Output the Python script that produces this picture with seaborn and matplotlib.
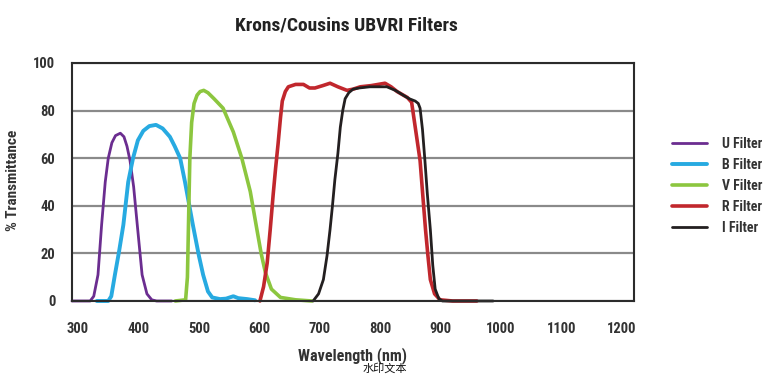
import numpy as np
import pandas as pd
import matplotlib
matplotlib.use('Agg')
import matplotlib.pyplot as plt
import seaborn as sns

# filter transmission curves (wavelength nm, % transmittance)
U_nm = [290, 320, 326, 333, 339, 345, 350, 356, 362, 370, 376, 381, 386, 392, 398, 406, 414, 422, 430, 455]
U_pct = [0, 0, 2, 11, 32, 50, 60, 66.5, 69.5, 70.5, 69, 65, 59, 48, 32, 11, 3, 0.5, 0, 0]

B_nm = [331, 350, 355, 361, 368, 375, 383, 391, 399, 408, 418, 429, 440, 452, 460, 469, 477,
        490, 500, 507, 515, 522, 535, 545, 557, 565, 580, 593]
B_pct = [0, 0, 2, 11, 21, 32, 50, 60, 67.5, 71.5, 73.5, 74, 72.5, 69, 65, 60, 50,
         32, 19, 11, 4, 1.5, 0.8, 1, 2, 1.2, 0.8, 0.3]

V_nm = [461, 478, 481, 483, 485, 488, 492, 497, 502, 508, 515, 525, 540, 557, 571, 585,
        596, 603, 610, 620, 635, 660, 687]
V_pct = [0, 0.5, 10, 35, 60, 75, 83, 86.5, 88, 88.5, 87.5, 85, 81, 71, 60, 46,
         30, 20, 12, 5, 1.5, 0.5, 0]

R_nm = [601, 607, 613, 618, 623, 627, 631, 635, 638, 643, 648, 660, 673, 683, 692, 705, 717,
        730, 745, 755, 767, 785, 808, 818, 828, 845, 852, 858, 866, 870, 875, 879, 883, 890,
        899, 920, 960]
R_pct = [0, 6, 16, 30, 45, 56, 66, 77, 84, 88, 90, 91, 91, 89.5, 89.5, 90.5, 91.5,
         90, 88.5, 89, 90, 90.5, 91.5, 90, 88, 85.5, 83.5, 73, 59, 46, 30, 19, 9, 3,
         0.5, 0, 0]

I_nm = [689, 698, 706, 712, 717, 721, 725, 730, 734, 738, 742, 748, 755, 765, 783, 800, 811,
        825, 838, 848, 858, 863, 866, 870, 874, 878, 883, 887, 891, 897, 903, 940, 987]
I_pct = [0, 3, 9, 19, 30, 40, 51, 62, 73, 80, 85, 87.5, 89, 89.5, 90, 90, 90,
         88.5, 86.5, 85, 84, 83, 81, 72, 59, 45, 30, 15, 5, 1, 0, 0, 0]

names = ['U Filter', 'B Filter', 'V Filter', 'R Filter', 'I Filter']
colors = ['#6b2d90', '#27aae1', '#8cc63f', '#c1272d', '#231f20']
widths = [2.0, 2.8, 2.6, 2.6, 2.0]

parts = []
for name, x, y in zip(names, [U_nm, B_nm, V_nm, R_nm, I_nm], [U_pct, B_pct, V_pct, R_pct, I_pct]):
    parts.append(pd.DataFrame({'wavelength': x, 'pct': y, 'filter': name}))
df = pd.concat(parts, ignore_index=True)

sns.set_style('white')
plt.rcParams['font.family'] = ['Roboto Condensed', 'Liberation Sans', 'DejaVu Sans']

fig = plt.figure(figsize=(7.7, 3.85), dpi=100)
ax = fig.add_axes([72 / 770, 1 - 301 / 385, 562 / 770, 238 / 385])

sns.lineplot(data=df, x='wavelength', y='pct', hue='filter', hue_order=names,
             palette=colors, ax=ax, legend=False, estimator=None, sort=False)
for line, lw in zip(ax.lines, widths):
    line.set_linewidth(lw)
    line.set_solid_joinstyle('round')
    line.set_solid_capstyle('round')
    line.set_clip_on(False)

ax.set_xlim(290, 1220)
ax.set_ylim(0, 100)
ax.set_xticks(range(300, 1201, 100))
ax.set_yticks(range(0, 101, 20))
ax.yaxis.grid(True, color='#8a8a8a', linewidth=1.6)
ax.set_axisbelow(True)
for s in ax.spines.values():
    s.set_color('#2b2b2b')
    s.set_linewidth(1.5)
ax.tick_params(length=0, labelsize=10.5, labelcolor='#333333')
ax.tick_params(axis='x', pad=15)
ax.tick_params(axis='y', pad=12)
for t in ax.get_xticklabels() + ax.get_yticklabels():
    t.set_fontweight('bold')

ax.set_xlabel('Wavelength (nm)', fontsize=11.5, fontweight='bold', color='#333333')
ax.xaxis.set_label_coords(0.5, -0.195)
ax.set_ylabel('% Transmittance', fontsize=11, fontweight='bold', color='#333333')
ax.yaxis.set_label_coords(-0.093, 0.508)

fig.text(346 / 770, 1 - 25 / 385, 'Krons/Cousins UBVRI Filters', fontsize=14,
         fontweight='bold', color='#222222', ha='center', va='center')

fig.legend(ax.lines, names, loc='upper left', bbox_to_anchor=(672 / 770, 1 - 137 / 385),
           frameon=False, handlelength=2.5, handletextpad=1.1,
           labelspacing=0.5, borderpad=0, borderaxespad=0, labelcolor='#333333',
           prop={'weight': 'bold', 'size': 10})

fig.text(385 / 770, 1 - 368 / 385, '水印文本', fontsize=8, color='#111111',
         ha='center', va='center', family=['Noto Sans CJK SC', 'DejaVu Sans'])

fig.savefig('out.png', dpi=100)
